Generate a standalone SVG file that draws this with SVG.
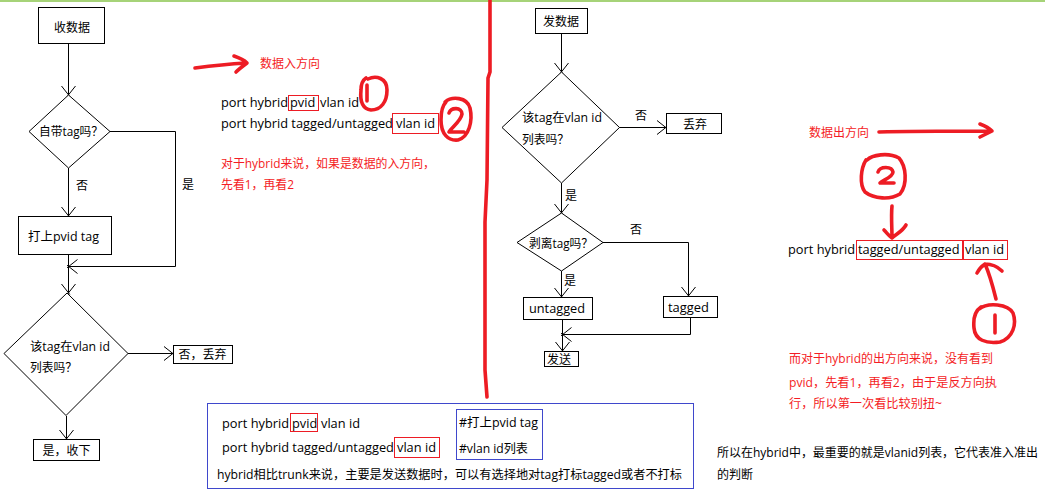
<svg xmlns="http://www.w3.org/2000/svg" width="1045" height="492" viewBox="0 0 1045 492">
<style>
text{font-family:"Open Sans","Noto Sans CJK SC",sans-serif;font-size:12px;fill:#000}
.p{font-size:12.8px}
.c{font-family:"Noto Sans CJK SC",sans-serif}
.r{fill:#f41c24}
.box{fill:#fff;stroke:#000;stroke-width:1}
.rb{fill:none;stroke:#ed1c24;stroke-width:1}
.bb{fill:none;stroke:#3f48cc;stroke-width:1}
.ln{fill:none;stroke:#000;stroke-width:1;marker-end:url(#ah)}
.hd{fill:none;stroke:#ed1c24;stroke-width:3.6;stroke-linecap:round;stroke-linejoin:round}
.m{text-anchor:middle}
</style>
<defs>
<marker id="ah" markerWidth="14" markerHeight="18" viewBox="-12 -9 14 18" refX="0" refY="0" orient="auto" markerUnits="userSpaceOnUse">
<path d="M-9,-7 L1.5,1.3 M-9,7 L1.5,-1.3" fill="none" stroke="#000" stroke-width="1"/>
</marker>
</defs>
<rect x="0" y="0" width="1045" height="492" fill="#fff"/>
<rect x="0" y="0" width="1045" height="2" fill="#a6d378"/>

<g id="connectors">
<path class="ln" d="M68.5,43 V95"/>
<path class="ln" d="M68.5,168 V216"/>
<path class="ln" d="M110,131.5 H175.5 V266.5 H68.5"/>
<path class="ln" d="M68.5,254 V293"/>
<path class="ln" d="M128,353.5 H173"/>
<path class="ln" d="M66.5,416 V439"/>
<path class="ln" d="M561.5,33 V72"/>
<path class="ln" d="M619,127.5 H666"/>
<path class="ln" d="M561.5,183 V213"/>
<path class="ln" d="M603,242.5 H688.5 V296"/>
<path class="ln" d="M561.5,271 V297"/>
<path class="ln" d="M562.5,319 V351"/>
<path class="ln" d="M690.5,317 V334.5 H562.5"/>
<text x="82" y="189.5" class="m">否</text>
<text x="188" y="188.5" class="m">是</text>
<text x="641" y="119.5" class="m">否</text>
<text x="571" y="199.5" class="m">是</text>
<text x="636" y="233.5" class="m">否</text>
<text x="570" y="284.5" class="m">是</text>
</g>

<g id="recv">
<rect class="box" x="38.5" y="7.5" width="66" height="36"/>
<text x="72" y="31.5" class="m">收数据</text>
</g>
<g id="has-tag">
<polygon class="box" points="68.5,95 110,131.5 68.5,168 29,131.5"/>
<text x="39" y="135.5" textLength="64" lengthAdjust="spacingAndGlyphs">自带tag吗<tspan class="c">？</tspan></text>
</g>
<g id="add-pvid">
<rect class="box" x="18.5" y="216.5" width="93" height="38"/>
<text x="28" y="240.5" textLength="71" lengthAdjust="spacingAndGlyphs">打上pvid tag</text>
</g>
<g id="in-list-recv">
<polygon class="box" points="67,293 128,353.5 66,415.5 4,353.5"/>
<text x="30" y="350.5" textLength="80" lengthAdjust="spacingAndGlyphs">该tag在vlan id</text>
<text x="30" y="371.5" textLength="47" lengthAdjust="spacingAndGlyphs">列表吗<tspan class="c">？</tspan></text>
</g>
<g id="drop-recv">
<rect class="box" x="173.5" y="345.5" width="59" height="18"/>
<text x="202.5" y="358.5" class="m">否，丢弃</text>
</g>
<g id="accept">
<rect class="box" x="33.5" y="439.5" width="66" height="21"/>
<text x="66.5" y="454.5" class="m">是，收下</text>
</g>

<g id="send">
<rect class="box" x="535.5" y="8.5" width="52" height="25"/>
<text x="561" y="25.5" class="m">发数据</text>
</g>
<g id="in-list-send">
<polygon class="box" points="561.5,72 619.5,127.5 561.5,183 502,127.5"/>
<text x="522" y="121.5" textLength="80" lengthAdjust="spacingAndGlyphs">该tag在vlan id</text>
<text x="522" y="143.5" textLength="47" lengthAdjust="spacingAndGlyphs">列表吗<tspan class="c">？</tspan></text>
</g>
<g id="drop-send">
<rect class="box" x="666.5" y="113.5" width="55" height="20"/>
<text x="683" y="128.5">丢弃</text>
</g>
<g id="strip">
<polygon class="box" points="561.5,213 603,242.5 561.5,271 517,242.5"/>
<text x="529" y="248" textLength="64" lengthAdjust="spacingAndGlyphs">剥离tag吗<tspan class="c">？</tspan></text>
</g>
<g id="untagged">
<rect class="box" x="523.5" y="297.5" width="69" height="22"/>
<text x="529" y="312.5" textLength="56" lengthAdjust="spacingAndGlyphs">untagged</text>
</g>
<g id="tagged">
<rect class="box" x="663.5" y="296.5" width="54" height="21"/>
<text x="668" y="311.5" textLength="41" lengthAdjust="spacingAndGlyphs">tagged</text>
</g>
<g id="sent">
<rect class="box" x="544.5" y="351.5" width="34" height="15"/>
<text x="547" y="363.5">发送</text>
</g>

<g id="divider">
<path class="hd" d="M490,0 L490,72 L488,78 L487,180 L485,222 L485,370 L487,397"/>
</g>

<g id="in-notes">
<path class="hd" d="M195,68 C210,66 228,64 246,63 M234,56 C240,58 244,60 247,63 C243,66 239,69 236,72"/>
<text x="260" y="67.5" class="r">数据入方向</text>
<text x="221" y="106.5" class="p"><tspan x="221">port hybrid</tspan><tspan x="290">pvid</tspan><tspan x="320">vlan id</tspan></text>
<rect class="rb" x="288.5" y="95.5" width="30" height="15"/>
<text x="221" y="127.5" class="p"><tspan x="221">port hybrid tagged/untagged</tspan><tspan x="396">vlan id</tspan></text>
<rect class="rb" x="392.5" y="113.5" width="46" height="20"/>
<path class="hd" d="M368,79 C376,75 387,78 387,90 C387,102 381,110 371,110 C362,109 360,100 361,90 C361,84 363,80 366,78 M367,85 L367,101"/>
<path class="hd" d="M445,102 C452,96 467,97 470,108 C473,121 469,137 458,140 C448,141 441,134 441,120 C441,112 442,106 446,102 M449,113 C451,107 462,107 462,114 C461,121 452,127 449,132 L464,132"/>
<text x="221" y="167.5" class="r" textLength="214" lengthAdjust="spacingAndGlyphs">对于hybrid来说，如果是数据的入方向，</text>
<text x="221" y="188.5" class="r" textLength="73" lengthAdjust="spacingAndGlyphs">先看1，再看2</text>
</g>

<g id="out-notes">
<text x="809" y="136.5" class="r">数据出方向</text>
<path class="hd" d="M879,132 C910,131 950,131 990,131 M980,124 C985,126 989,128 992,131 C988,133 984,135 980,137"/>
<path class="hd" d="M867,160 C872,155 888,152 899,158 C906,166 908,184 900,194 C890,200 874,199 865,192 C859,184 861,168 866,160 M878,172 C880,166 892,166 893,172 C893,177 883,180 880,183 L894,183"/>
<path class="hd" d="M892,206 C891,216 892,228 892,238 M884,230 C887,233 889,236 892,238 C896,234 902,232 906,225"/>
<text x="788" y="253.5" class="p"><tspan x="788">port hybrid</tspan><tspan x="858">tagged/untagged</tspan><tspan x="965">vlan id</tspan></text>
<rect class="rb" x="856.5" y="240.5" width="106" height="19"/>
<rect class="rb" x="963.5" y="240.5" width="44" height="19"/>
<path class="hd" d="M996,299 C993,287 990,275 985,264 M977,273 C979,269 982,266 985,264 C992,264 998,267 1002,271"/>
<path class="hd" d="M979,309 C988,302 1008,304 1013,313 C1017,324 1013,338 1000,342 C986,344 975,340 974,328 C973,318 975,311 981,307 M995,315 L995,333"/>
<text x="789" y="362.5" class="r" textLength="204" lengthAdjust="spacingAndGlyphs">而对于hybrid的出方向来说，没有看到</text>
<text x="789" y="386.5" class="r" textLength="208" lengthAdjust="spacingAndGlyphs">pvid，先看1，再看2，由于是反方向执</text>
<text x="789" y="407.5" class="r" textLength="153" lengthAdjust="spacingAndGlyphs">行，所以第一次看比较别扭~</text>
</g>

<g id="summary">
<rect class="bb" x="207.5" y="403.5" width="486" height="85"/>
<text x="222" y="427.5" class="p"><tspan x="222">port hybrid</tspan><tspan x="292">pvid</tspan><tspan x="321">vlan id</tspan></text>
<rect class="rb" x="290.5" y="413.5" width="27" height="18"/>
<text x="222" y="451.5" class="p"><tspan x="222">port hybrid tagged/untagged</tspan><tspan x="397">vlan id</tspan></text>
<rect class="rb" x="394.5" y="437.5" width="45" height="20"/>
<rect class="bb" x="456.5" y="409.5" width="86" height="50"/>
<text x="459" y="426.5" textLength="79" lengthAdjust="spacingAndGlyphs">#打上pvid tag</text>
<text x="459" y="452.5" textLength="69" lengthAdjust="spacingAndGlyphs">#vlan id列表</text>
<text x="217" y="478.5" textLength="465" lengthAdjust="spacingAndGlyphs">hybrid相比trunk来说，主要是发送数据时，可以有选择地对tag打标tagged或者不打标</text>
</g>

<g id="conclusion">
<text x="717" y="456.5" textLength="321" lengthAdjust="spacingAndGlyphs">所以在hybrid中，最重要的就是vlanid列表，它代表准入准出</text>
<text x="717" y="478.5">的判断</text>
</g>
</svg>
